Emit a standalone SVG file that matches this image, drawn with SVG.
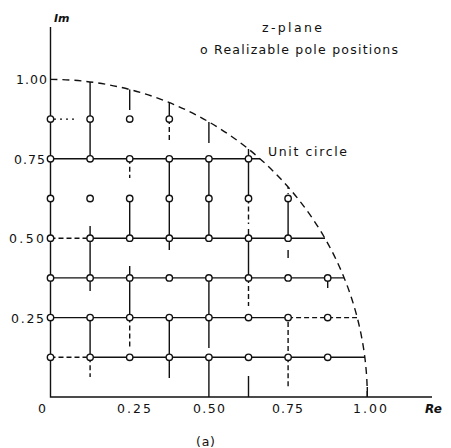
<svg xmlns="http://www.w3.org/2000/svg" width="451" height="448" viewBox="0 0 451 448">
<style>
.ln{stroke:#111;stroke-width:1.4;fill:none}
.ds{stroke:#111;stroke-width:1.4;fill:none;stroke-dasharray:5 3}
.dt{stroke:#111;stroke-width:1.3;fill:none;stroke-dasharray:2 4}
.uc{stroke:#111;stroke-width:1.4;fill:none;stroke-dasharray:7 5}
.p{fill:#fff;stroke:#111;stroke-width:1.4}
text{font-family:"DejaVu Sans","Liberation Sans",sans-serif;fill:#111}
.t{font-size:12.5px}
</style>
<rect width="451" height="448" fill="#fff"/>
<g id="connectors">
<path id="axes" class="ln" d="M50.5,27V397H432"/>
<path id="unit-circle" class="uc" d="M50.5,79.4A316.8,317.6 0 0 1 367.3,397"/>
<path class="ln" d="M367.3,387V397"/>
<!-- horizontal grid lines -->
<path class="dt" d="M54,119.1H76"/>
<path class="ln" d="M50.5,158.8H260"/>
<path class="ds" d="M50.5,238.2H90.1"/>
<path class="ln" d="M90.1,238.2H325"/>
<path class="ln" d="M50.5,277.9H344"/>
<path class="ln" d="M50.5,317.6H288.1"/>
<path class="ds" d="M288.1,317.6H357"/>
<path class="ds" d="M50.5,357.3H90.1"/>
<path class="ln" d="M90.1,357.3H365"/>
<!-- vertical grid lines -->
<path class="ln" d="M90.1,82V158.8M90.1,226V238.2M90.1,238.2V277.9M90.1,277.9V291M90.1,317.6V357.3"/>
<path class="ds" d="M90.1,357.3V377"/>
<path class="ln" d="M129.7,89.5V110M129.7,198.5V238.2M129.7,266V277.9M129.7,277.9V317.6"/>
<path class="ds" d="M129.7,158.8V178M129.7,317.6V347"/>
<path class="ln" d="M169.3,102.6V119.1M169.3,158.8V238.2M169.3,238.2V250M169.3,317.6V378"/>
<path class="ds" d="M169.3,119.1V142"/>
<path class="ln" d="M208.9,122V143M208.9,158.8V238.2M208.9,277.9V348M208.9,357.3V397"/>
<path class="ln" d="M248.5,149V198.5M248.5,229V277.9M248.5,376V397"/>
<path class="ds" d="M248.5,198.5V224M248.5,277.9V306"/>
<path class="ln" d="M288.1,198.5V238.2M288.1,250V258"/>
<path class="dt" d="M288.1,187V194"/>
<path class="ds" d="M288.1,322V357.3M288.1,357.3V387"/>
<path class="ln" d="M327.7,281V288"/>
</g>
<g id="poles">
<g id="row-0875">
<circle class="p" cx="50.5" cy="119.1" r="3.2"/><circle class="p" cx="90.1" cy="119.1" r="3.2"/><circle class="p" cx="129.7" cy="119.1" r="3.2"/><circle class="p" cx="169.3" cy="119.1" r="3.2"/>
</g>
<g id="row-075">
<circle class="p" cx="50.5" cy="158.8" r="3.2"/><circle class="p" cx="90.1" cy="158.8" r="3.2"/><circle class="p" cx="129.7" cy="158.8" r="3.2"/><circle class="p" cx="169.3" cy="158.8" r="3.2"/><circle class="p" cx="208.9" cy="158.8" r="3.2"/><circle class="p" cx="248.5" cy="158.8" r="3.2"/>
</g>
<g id="row-0625">
<circle class="p" cx="50.5" cy="198.5" r="3.2"/><circle class="p" cx="90.1" cy="198.5" r="3.2"/><circle class="p" cx="129.7" cy="198.5" r="3.2"/><circle class="p" cx="169.3" cy="198.5" r="3.2"/><circle class="p" cx="208.9" cy="198.5" r="3.2"/><circle class="p" cx="248.5" cy="198.5" r="3.2"/><circle class="p" cx="288.1" cy="198.5" r="3.2"/>
</g>
<g id="row-050">
<circle class="p" cx="50.5" cy="238.2" r="3.2"/><circle class="p" cx="90.1" cy="238.2" r="3.2"/><circle class="p" cx="129.7" cy="238.2" r="3.2"/><circle class="p" cx="169.3" cy="238.2" r="3.2"/><circle class="p" cx="208.9" cy="238.2" r="3.2"/><circle class="p" cx="248.5" cy="238.2" r="3.2"/><circle class="p" cx="288.1" cy="238.2" r="3.2"/>
</g>
<g id="row-0375">
<circle class="p" cx="50.5" cy="277.9" r="3.2"/><circle class="p" cx="90.1" cy="277.9" r="3.2"/><circle class="p" cx="129.7" cy="277.9" r="3.2"/><circle class="p" cx="169.3" cy="277.9" r="3.2"/><circle class="p" cx="208.9" cy="277.9" r="3.2"/><circle class="p" cx="248.5" cy="277.9" r="3.2"/><circle class="p" cx="288.1" cy="277.9" r="3.2"/><circle class="p" cx="327.7" cy="277.9" r="3.2"/>
</g>
<g id="row-025">
<circle class="p" cx="50.5" cy="317.6" r="3.2"/><circle class="p" cx="90.1" cy="317.6" r="3.2"/><circle class="p" cx="129.7" cy="317.6" r="3.2"/><circle class="p" cx="169.3" cy="317.6" r="3.2"/><circle class="p" cx="208.9" cy="317.6" r="3.2"/><circle class="p" cx="248.5" cy="317.6" r="3.2"/><circle class="p" cx="288.1" cy="317.6" r="3.2"/><circle class="p" cx="327.7" cy="317.6" r="3.2"/>
</g>
<g id="row-0125">
<circle class="p" cx="50.5" cy="357.3" r="3.2"/><circle class="p" cx="90.1" cy="357.3" r="3.2"/><circle class="p" cx="129.7" cy="357.3" r="3.2"/><circle class="p" cx="169.3" cy="357.3" r="3.2"/><circle class="p" cx="208.9" cy="357.3" r="3.2"/><circle class="p" cx="248.5" cy="357.3" r="3.2"/><circle class="p" cx="288.1" cy="357.3" r="3.2"/><circle class="p" cx="327.7" cy="357.3" r="3.2"/>
</g>
</g>
<g id="labels">
<text x="54" y="22" font-size="11" font-style="italic" font-weight="bold">Im</text>
<text class="t" x="16" y="84" textLength="31" lengthAdjust="spacing">1.00</text>
<text class="t" x="14" y="164" textLength="31" lengthAdjust="spacing">0.75</text>
<text class="t" x="9" y="243" textLength="35" lengthAdjust="spacing">0.50</text>
<text class="t" x="11" y="323" textLength="33" lengthAdjust="spacing">0.25</text>
<text class="t" x="38" y="413">0</text>
<text class="t" x="117" y="413" textLength="34" lengthAdjust="spacing">0.25</text>
<text class="t" x="193" y="413" textLength="32" lengthAdjust="spacing">0.50</text>
<text class="t" x="272" y="413" textLength="31" lengthAdjust="spacing">0.75</text>
<text class="t" x="353" y="413" textLength="34" lengthAdjust="spacing">1.00</text>
<text x="425" y="413" font-size="12" font-style="italic" font-weight="bold">Re</text>
<text class="t" x="196" y="446" textLength="19" lengthAdjust="spacing">(a)</text>
<text class="t" x="268" y="156" textLength="79" lengthAdjust="spacing">Unit circle</text>
<text class="t" x="262" y="32" textLength="60" lengthAdjust="spacing">z-plane</text>
<text class="t" x="200" y="54" textLength="198" lengthAdjust="spacing">o Realizable pole positions</text>
</g>
</svg>
